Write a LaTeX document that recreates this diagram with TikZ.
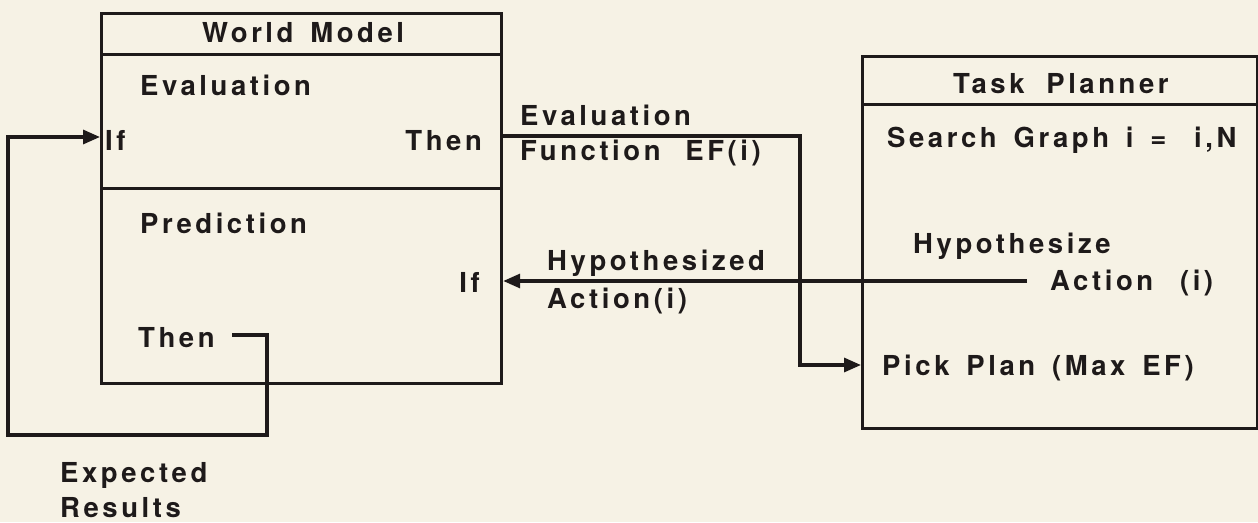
\documentclass[tikz,border=0pt]{standalone}
\usepackage{fontspec}
\newfontfamily\hv[LetterSpace=13,WordSpace=1.5]{TeX Gyre Heros}
\usetikzlibrary{arrows.meta}
\definecolor{paper}{RGB}{246,242,229}
\definecolor{ink}{RGB}{30,26,26}
\begin{document}
\begin{tikzpicture}[x=1pt,y=-1pt]
\tikzset{
  lbl/.style={font={\hv\bfseries\fontsize{27.5}{30}\selectfont}, inner sep=0pt, text=ink},
  box/.style={draw=ink, line width=3.2pt, inner sep=0pt, anchor=north west},
  wire/.style={draw=ink, line width=3.2pt},
  arr/.style={wire, -{Triangle[length=17pt,width=14pt]}},
}
\fill[paper] (0,0) rectangle (1258,522);
\useasboundingbox (0,0) rectangle (1258,522);

% World Model
\node[box, minimum width=400pt, minimum height=41pt] (wmtitle) at (100,12) {};
\node[box, minimum width=400pt, minimum height=134pt] (wmeval) at (100,53) {};
\node[box, minimum width=400pt, minimum height=195pt] (wmpred) at (100,187) {};
% Task Planner
\node[box, minimum width=395pt, minimum height=48pt] (tptitle) at (861,55) {};
\node[box, minimum width=395pt, minimum height=324pt] (tpbody) at (861,103) {};

% labels
\node[lbl, anchor=base west] (twm) at (202,42) {World~Model};
\node[lbl, anchor=base west] (teval) at (140,95) {Evaluation};
\node[lbl, anchor=base west] (tif1) at (105,150) {If};
\node[lbl, anchor=base east] (tthen1) at (482,150) {Then};
\node[lbl, anchor=base west] (tpred) at (140,233) {Prediction};
\node[lbl, anchor=base east] (tif2) at (480,292) {If};
\node[lbl, anchor=base west] (tthen2) at (138,347) {Then};
\node[lbl, anchor=base west] (texp) at (60,482) {Expected};
\node[lbl, anchor=base west] (tres) at (60,517) {Results};
\node[lbl, anchor=base west] (tef1) at (520,125) {Evaluation};
\node[lbl, anchor=base west] (tef2) at (520,160) {Function\hspace{8pt} EF(i)};
\node[lbl, anchor=base west] (tha1) at (547,270) {Hypothesized};
\node[lbl, anchor=base west] (tha2) at (547,308) {Action(i)};
\node[lbl, anchor=base west] (ttp) at (953,93) {Task\hspace{5pt} Planner};
\node[lbl, anchor=base west] (tsg) at (887,147) {Search Graph i =\hspace{11pt} i,N};
\node[lbl, anchor=base west] (thz1) at (913,253) {Hypothesize};
\node[lbl, anchor=base west] (thz2) at (1050,290) {Action\hspace{10pt} (i)};
\node[lbl, anchor=base west] (tpick) at (882,375) {Pick Plan (Max EF)};

% connectors
\coordinate (efy) at (0,136);
\coordinate (efbend) at (800,365);
\draw[arr] (wmeval.east |- efy) -| (efbend) -- (tpbody.west |- efbend);

\coordinate (hstart) at (1027,281);
\draw[arr] (hstart) -- (wmpred.east |- hstart);

\coordinate (fbstart) at (232,335);
\coordinate (fbc1) at (267,435);
\coordinate (fbc2) at (8,137);
\draw[arr] (fbstart) -| (fbc1) -| (fbc2) -- (wmeval.west |- fbc2);
\end{tikzpicture}
\end{document}
